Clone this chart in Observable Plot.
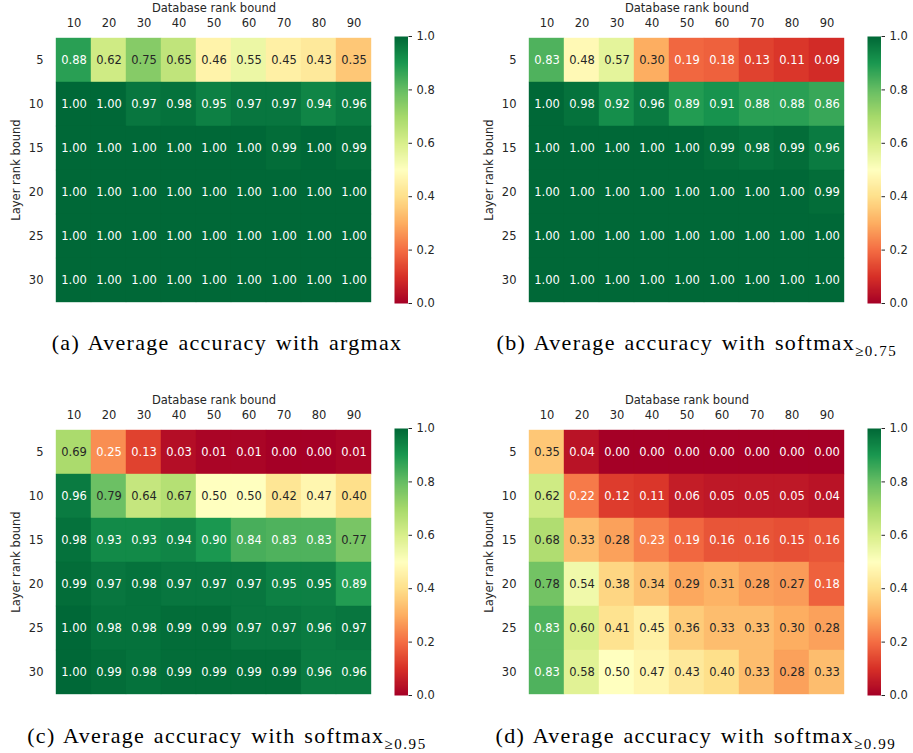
<!DOCTYPE html>
<html><head><meta charset="utf-8">
<script src="https://cdn.jsdelivr.net/npm/d3@7"></script>
<script src="https://cdn.jsdelivr.net/npm/@observablehq/plot@0.6"></script>
<style>
body{margin:0;background:#fff;width:913px;height:753px;position:relative;overflow:hidden}
.abs{position:absolute}
.cap{position:absolute;font-family:"Liberation Serif",serif;font-size:22px;line-height:22px;color:#000;white-space:nowrap;letter-spacing:1.3px;word-spacing:2px;transform:translateX(-50%)}
.cap sub{font-size:15px;vertical-align:-5.5px;line-height:0;letter-spacing:1.6px}
</style></head><body>
<script>
// ---- data ----
const dbRanks = [10, 20, 30, 40, 50, 60, 70, 80, 90];
const layerRanks = [5, 10, 15, 20, 25, 30];
const colorbarTicks = [0.0, 0.2, 0.4, 0.6, 0.8, 1.0];

const accArgmax = [
  [0.88, 0.62, 0.75, 0.65, 0.46, 0.55, 0.45, 0.43, 0.35],
  [1.00, 1.00, 0.97, 0.98, 0.95, 0.97, 0.97, 0.94, 0.96],
  [1.00, 1.00, 1.00, 1.00, 1.00, 1.00, 0.99, 1.00, 0.99],
  [1.00, 1.00, 1.00, 1.00, 1.00, 1.00, 1.00, 1.00, 1.00],
  [1.00, 1.00, 1.00, 1.00, 1.00, 1.00, 1.00, 1.00, 1.00],
  [1.00, 1.00, 1.00, 1.00, 1.00, 1.00, 1.00, 1.00, 1.00]
];
const accSoftmax075 = [
  [0.83, 0.48, 0.57, 0.30, 0.19, 0.18, 0.13, 0.11, 0.09],
  [1.00, 0.98, 0.92, 0.96, 0.89, 0.91, 0.88, 0.88, 0.86],
  [1.00, 1.00, 1.00, 1.00, 1.00, 0.99, 0.98, 0.99, 0.96],
  [1.00, 1.00, 1.00, 1.00, 1.00, 1.00, 1.00, 1.00, 0.99],
  [1.00, 1.00, 1.00, 1.00, 1.00, 1.00, 1.00, 1.00, 1.00],
  [1.00, 1.00, 1.00, 1.00, 1.00, 1.00, 1.00, 1.00, 1.00]
];
const accSoftmax095 = [
  [0.69, 0.25, 0.13, 0.03, 0.01, 0.01, 0.00, 0.00, 0.01],
  [0.96, 0.79, 0.64, 0.67, 0.50, 0.50, 0.42, 0.47, 0.40],
  [0.98, 0.93, 0.93, 0.94, 0.90, 0.84, 0.83, 0.83, 0.77],
  [0.99, 0.97, 0.98, 0.97, 0.97, 0.97, 0.95, 0.95, 0.89],
  [1.00, 0.98, 0.98, 0.99, 0.99, 0.97, 0.97, 0.96, 0.97],
  [1.00, 0.99, 0.98, 0.99, 0.99, 0.99, 0.99, 0.96, 0.96]
];
const accSoftmax099 = [
  [0.35, 0.04, 0.00, 0.00, 0.00, 0.00, 0.00, 0.00, 0.00],
  [0.62, 0.22, 0.12, 0.11, 0.06, 0.05, 0.05, 0.05, 0.04],
  [0.68, 0.33, 0.28, 0.23, 0.19, 0.16, 0.16, 0.15, 0.16],
  [0.78, 0.54, 0.38, 0.34, 0.29, 0.31, 0.28, 0.27, 0.18],
  [0.83, 0.60, 0.41, 0.45, 0.36, 0.33, 0.33, 0.30, 0.28],
  [0.83, 0.58, 0.50, 0.47, 0.43, 0.40, 0.33, 0.28, 0.33]
];

// ---- style ----
const rdylgnColors = ["#a50026","#d73027","#f46d43","#fdae61","#fee08b","#ffffbf","#d9ef8b","#a6d96a","#66bd63","#1a9850","#006837"];
const rdylgn = d3.piecewise(d3.interpolateRgb, rdylgnColors);
const colorScale = {type: "linear", domain: [0, 1], interpolate: rdylgn};
const font = {fontFamily: "'DejaVu Sans', sans-serif", fontSize: "11.5px", background: "transparent", overflow: "visible"};

function luminance(v) {
  const c = d3.rgb(rdylgn(v));
  const f = x => { x /= 255; return x <= 0.03928 ? x / 12.92 : Math.pow((x + 0.055) / 1.055, 2.4); };
  return 0.2126 * f(c.r) + 0.7152 * f(c.g) + 0.0722 * f(c.b);
}

const CW = 323, CH = 267, ML = 52, MT = 36;

function place(node, left, top) {
  node.classList.add("abs");
  node.style.left = left + "px";
  node.style.top = top + "px";
  document.body.appendChild(node);
}

function heatmap(values, frameLeft, frameTop) {
  const data = [];
  layerRanks.forEach((l, i) => dbRanks.forEach((d, j) => data.push({layer: l, db: d, v: values[i][j]})));
  const p = Plot.plot({
    width: ML + CW, height: MT + CH,
    marginLeft: ML, marginTop: MT, marginRight: 0, marginBottom: 0,
    style: font,
    x: {type: "band", domain: dbRanks, padding: 0},
    y: {type: "band", domain: layerRanks, padding: 0},
    color: colorScale,
    marks: [
      Plot.cell(data, {x: "db", y: "layer", fill: "v", stroke: "v", strokeWidth: 0.4}),
      Plot.text(data, {x: "db", y: "layer", text: d => d.v.toFixed(2), filter: d => luminance(d.v) > 0.408, fill: "#262626"}),
      Plot.text(data, {x: "db", y: "layer", text: d => d.v.toFixed(2), filter: d => luminance(d.v) <= 0.408, fill: "#ffffff"}),
      Plot.axisX({anchor: "top", tickSize: 0, tickPadding: 10, label: "Database rank bound", labelAnchor: "center", labelOffset: 33, fill: "#262626"}),
      Plot.axisY({anchor: "left", tickSize: 0, tickPadding: 9, label: "Layer rank bound", labelAnchor: "center", labelOffset: 41, fill: "#262626"})
    ]
  });
  place(p, frameLeft - ML, frameTop - MT);
}

function colorbar(barLeft, frameTop) {
  const p = Plot.plot({
    width: 60, height: MT + CH + 10,
    marginLeft: 0, marginRight: 46.5, marginTop: MT, marginBottom: 10,
    style: font,
    x: {domain: [0, 1], axis: null},
    y: {domain: [0, 1]},
    color: colorScale,
    marks: [
      Plot.raster({x1: 0, x2: 1, y1: 0, y2: 1, width: 1, height: 256, fill: (x, y) => y}),
      Plot.axisY({anchor: "right", ticks: colorbarTicks, tickFormat: d3.format(".1f"), tickSize: 3.5, tickPadding: 5, label: null, fill: "#262626", stroke: "#262626"})
    ]
  });
  place(p, barLeft, frameTop - MT);
}

function caption(html, center, top) {
  const d = document.createElement("div");
  d.className = "cap";
  d.innerHTML = html;
  d.style.left = center + "px";
  d.style.top = top + "px";
  document.body.appendChild(d);
}

const panels = [
  {values: accArgmax, left: 52, top: 36},
  {values: accSoftmax075, left: 524.7, top: 36},
  {values: accSoftmax095, left: 52, top: 428.3},
  {values: accSoftmax099, left: 524.7, top: 428.3}
];
panels.forEach(pn => {
  heatmap(pn.values, pn.left, pn.top);
  colorbar(pn.left + 342, pn.top);
});

caption("(a) Average accuracy with argmax", 227, 331.6);
caption("(b) Average accuracy with softmax<sub>≥0.75</sub>", 697, 331.6);
caption("(c) Average accuracy with softmax<sub>≥0.95</sub>", 227, 724.6);
caption("(d) Average accuracy with softmax<sub>≥0.99</sub>", 696, 724.6);
</script>
</body></html>
